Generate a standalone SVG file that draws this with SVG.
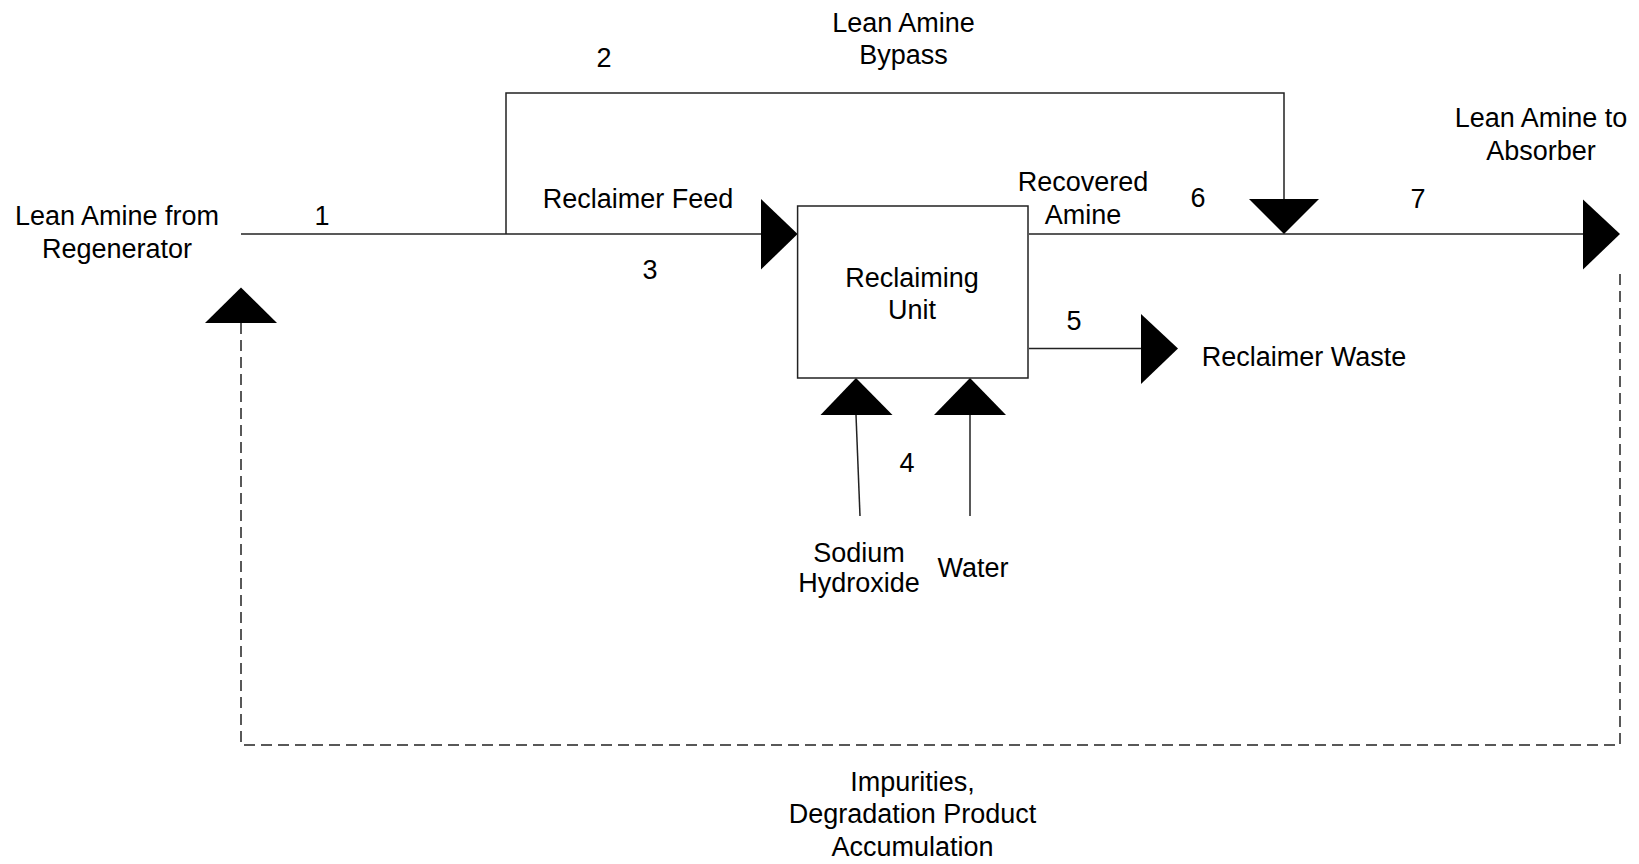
<svg xmlns="http://www.w3.org/2000/svg" width="1639" height="864" viewBox="0 0 1639 864">
<style>
text{font-family:"Liberation Sans",Arial,sans-serif;font-size:27px;fill:#000;text-anchor:middle}
.ln{stroke:#222;stroke-width:1.5;fill:none}
.dash{stroke:#222;stroke-width:1.5;fill:none;stroke-dasharray:11 6}
.ah{fill:#000}
.box{fill:#fff;stroke:#222;stroke-width:1.5}
</style>
<rect width="1639" height="864" fill="#fff"/>
<g id="connectors">
<path class="ln" d="M241,234 H761"/>
<path class="ln" d="M506,234 V93 H1284 V199"/>
<path class="ln" d="M1029,234 H1583"/>
<path class="ln" d="M1029,348.5 H1141"/>
<path class="ln" d="M860,516 L856,415"/>
<path class="ln" d="M970,516 V415"/>
<path class="dash" d="M241,323 V745 H1620 V270"/>
<polygon class="ah" points="761,199 797.6,234 761,269.5"/>
<polygon class="ah" points="1249,199 1319,199 1284,234"/>
<polygon class="ah" points="1583,199.5 1620,234 1583,269.5"/>
<polygon class="ah" points="1141,314 1178,348.5 1141,384"/>
<polygon class="ah" points="820.5,415 856,378 892.5,415"/>
<polygon class="ah" points="934,415 970,378 1006,415"/>
<polygon class="ah" points="205,323 241,287.5 277,323"/>
</g>
<g id="reclaiming-unit">
<rect class="box" x="797.6" y="206" width="230.4" height="172"/>
<text x="912" y="287">Reclaiming</text>
<text x="912" y="318.5">Unit</text>
</g>
<g id="source-regenerator">
<text x="117" y="225">Lean Amine from</text>
<text x="117" y="258">Regenerator</text>
</g>
<g id="sink-absorber">
<text x="1541" y="127">Lean Amine to</text>
<text x="1541" y="160">Absorber</text>
</g>
<g id="sink-waste">
<text x="1304" y="366">Reclaimer Waste</text>
</g>
<g id="source-naoh">
<text x="859" y="562">Sodium</text>
<text x="859" y="592">Hydroxide</text>
</g>
<g id="source-water">
<text x="973" y="577">Water</text>
</g>
<g id="labels">
<text x="322" y="225">1</text>
<text x="604" y="66.5">2</text>
<text x="903.5" y="31.5">Lean Amine</text>
<text x="903.5" y="64">Bypass</text>
<text x="638" y="208">Reclaimer Feed</text>
<text x="650" y="279">3</text>
<text x="907" y="472">4</text>
<text x="1074" y="330">5</text>
<text x="1083" y="191">Recovered</text>
<text x="1083" y="223.5">Amine</text>
<text x="1198" y="207">6</text>
<text x="1418" y="207.5">7</text>
<text x="912.5" y="790.5">Impurities,</text>
<text x="912.5" y="823">Degradation Product</text>
<text x="912.5" y="855.5">Accumulation</text>
</g>
</svg>
